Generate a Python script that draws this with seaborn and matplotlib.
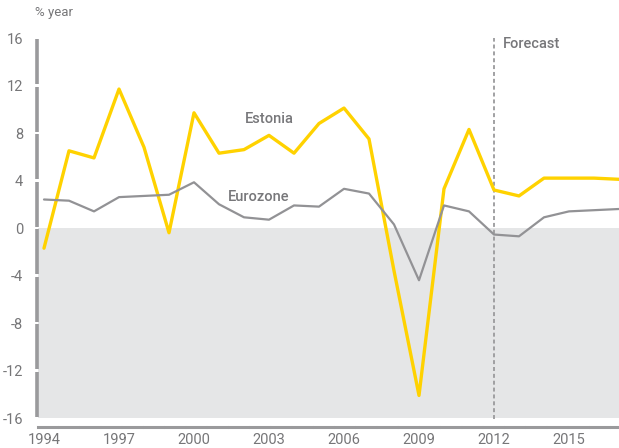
import matplotlib
matplotlib.use("Agg")
import matplotlib.pyplot as plt
import seaborn as sns
import pandas as pd
import numpy as np

years = list(range(1994, 2018))
estonia = [-1.7, 6.5, 5.9, 11.7, 6.8, -0.4, 9.7, 6.3, 6.6, 7.8, 6.3, 8.8,
           10.1, 7.5, -3.6, -14.1, 3.3, 8.3, 3.2, 2.7, 4.2, 4.2, 4.2, 4.1]
eurozone = [2.4, 2.3, 1.4, 2.6, 2.7, 2.8, 3.85, 2.0, 0.9, 0.7, 1.9, 1.8,
            3.3, 2.9, 0.3, -4.4, 1.9, 1.4, -0.55, -0.7, 0.9, 1.4, 1.5, 1.6]
yticks = [16, 12, 8, 4, 0, -4, -8, -12, -16]
xticks = [1994, 1997, 2000, 2003, 2006, 2009, 2012, 2015]
forecast_year = 2012

sns.set_style("white")
plt.rcParams['font.family'] = ['Roboto', 'DejaVu Sans']

df = pd.DataFrame({"year": years * 2,
                   "value": estonia + eurozone,
                   "series": ["Estonia"] * len(years) + ["Eurozone"] * len(years)})

fig = plt.figure(figsize=(6.19, 4.48), dpi=100)
ax = fig.add_axes([37 / 619, (448 - 427) / 448, (619 - 37) / 619, (427 - 38) / 448])

ylo = -16 - 9 / 11.875
ax.set_ylim(ylo, 16)
ax.set_xlim(1994 - 7 / 25, 2017)

# shaded negative region
ax.axhspan(-16, 0, xmin=1 / 582, xmax=1, color="#e5e6e7", lw=0, zorder=0)

# forecast divider
ax.plot([forecast_year, forecast_year], [-16.1, 16], color="#9a9a9c", lw=1.3,
        ls=(0, (2.2, 1.6)), zorder=1)

sns.lineplot(data=df, x="year", y="value", hue="series",
             palette={"Estonia": "#ffd200", "Eurozone": "#929295"},
             size="series", sizes={"Estonia": 2.4, "Eurozone": 1.6},
             legend=False, ax=ax, zorder=3)

# spines
for s in ax.spines.values():
    s.set_visible(False)
ax.spines["bottom"].set_visible(True)
ax.spines["bottom"].set_color("#9a9a9c")
ax.spines["bottom"].set_linewidth(2.2)
ax.spines["bottom"].set_linestyle((0, (6.1, 0.85)))
ax.spines["bottom"].set_bounds(1994 - 6 / 25, 2017)

# segmented left axis
trans = ax.get_yaxis_transform()
gap = 0.1
for a, b in zip(yticks[:-1], yticks[1:]):
    ax.plot([0, 0], [a - gap, b + gap], transform=trans, color="#9a9a9c",
            lw=2.6, solid_capstyle="butt", clip_on=False, zorder=2)

ax.set_yticks(yticks)
ax.set_yticklabels([str(v) for v in yticks])
ax.set_xticks(xticks)
ax.set_xticklabels([str(v) for v in xticks])
ax.tick_params(axis="both", length=0, labelsize=10.5, colors="#767678")
ax.tick_params(axis="y", pad=10)
ax.tick_params(axis="x", pad=4)
ax.set_xlabel("")
ax.set_ylabel("")

ax.text(-0.004, 1.05, "% year", transform=ax.transAxes, fontsize=9.5,
        color="#767678", ha="left", va="bottom")
ax.text(2003.0, 9.2, "Estonia", fontsize=10.5, color="#77777a",
        fontweight="medium", ha="center", va="center")
ax.text(2002.6, 2.6, "Eurozone", fontsize=10.5, color="#77777a",
        fontweight="medium", ha="center", va="center")
ax.text(2012.35, 15.5, "Forecast", fontsize=10.5, color="#77777a",
        fontweight="medium", ha="left", va="center")

fig.savefig("out.png", dpi=100)
